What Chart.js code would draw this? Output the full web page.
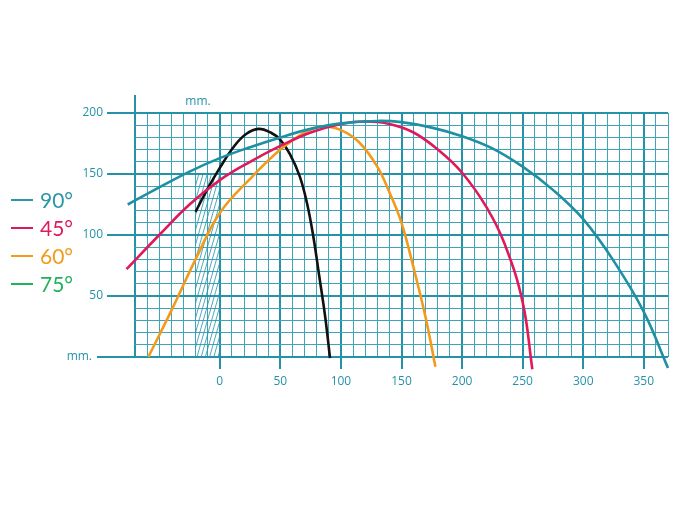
<!DOCTYPE html>
<html>
<head>
<meta charset="utf-8">
<script src="https://cdn.jsdelivr.net/npm/chart.js@4"></script>
<style>
  html, body { margin: 0; padding: 0; background: #fff; }
  #wrap { width: 700px; height: 517px; }
</style>
</head>
<body>
<div id="wrap"><canvas id="trajectoryChart" width="700" height="517"></canvas></div>
<script>
// angles and colours
const labels = ["90°", "45°", "60°", "75°"];
const lineColors = ["#1f8fa3", "#e0195a", "#f29b1b", "#111111"];
const legendColors = ["#2a96a9", "#e0195a", "#f29b1b", "#1fb25a"];

// distance (mm) / height (mm)
const x90 = [-76, -50, -25, 0, 25, 50, 75, 100, 130, 150, 175, 200, 225, 250, 275, 300, 325, 350, 370];
const y90 = [125, 139, 152, 163, 172, 180, 187, 191.5, 193.5, 192.5, 188, 181, 171, 156, 137, 113, 79, 37, -9];

const x45 = [-77, -50, -25, 0, 25, 50, 75, 100, 120, 140, 160, 180, 200, 220, 235, 250, 258];
const y45 = [72, 100, 125, 145, 160, 173, 184, 191, 193, 191, 184, 170, 151, 123, 93, 45, -10];

const x60 = [-59, -40, -20, 0, 25, 50, 70, 85, 100, 115, 130, 140, 150, 160, 170, 178];
const y60 = [0, 38, 80, 118, 146, 170, 184, 189, 186, 176, 156, 135, 110, 73, 32, -8];

const x75 = [-20, -10, 0, 12, 22, 32, 42, 50, 58, 66, 72, 77, 82, 87, 91];
const y75 = [119, 138, 155, 173, 183, 187, 184, 178, 166, 148, 126, 100, 67, 33, -1];

// grid range and hatched zone
const xMin = -70, xMax = 370, yMin = 0, yMax = 200;
const hatchFrom = -20, hatchTo = 0, hatchTop = 150;

const teal = "#2692a8";
const tealLight = "#3fa4b8";

const toPoints = (xs, ys) => xs.map((v, i) => ({ x: v, y: ys[i] }));
const series = [toPoints(x90, y90), toPoints(x45, y45), toPoints(x60, y60), toPoints(x75, y75)];

const isMajorX = (v) => (v >= 0 && v % 50 === 0) || v === xMin;
const isLabelX = (v) => v >= 0 && v % 50 === 0;
const isMajorY = (v) => v % 50 === 0;

const extras = {
  id: "extras",
  beforeDatasetsDraw(chart) {
    const { ctx, scales: { x, y } } = chart;
    ctx.save();

    // hatched zone
    const hx0 = x.getPixelForValue(hatchFrom);
    const hx1 = x.getPixelForValue(hatchTo);
    const hyB = y.getPixelForValue(0);
    const hyT = y.getPixelForValue(hatchTop);
    ctx.beginPath();
    ctx.rect(hx0, hyT, hx1 - hx0, hyB - hyT);
    ctx.clip();
    ctx.strokeStyle = teal;
    ctx.lineWidth = 0.8;
    ctx.beginPath();
    for (let s = hx0 - 70; s < hx1 + 5; s += 4.2) {
      ctx.moveTo(s, hyB);
      ctx.lineTo(s + 60, hyB - 210);
    }
    ctx.stroke();
    ctx.restore();

    ctx.save();
    ctx.strokeStyle = teal;
    ctx.lineWidth = 2;
    // longer tick at 0
    const y0 = Math.round(y.getPixelForValue(0));
    ctx.beginPath();
    ctx.moveTo(97, y0);
    ctx.lineTo(108, y0);
    // left border reaching above the grid
    const xl = Math.round(x.getPixelForValue(xMin));
    ctx.moveTo(xl, y.getPixelForValue(yMax));
    ctx.lineTo(xl, y.getPixelForValue(yMax) - 18);
    ctx.stroke();

    ctx.fillStyle = teal;
    ctx.font = "12px 'Open Sans'";
    ctx.textBaseline = "middle";
    ctx.textAlign = "right";
    ctx.fillText("mm.", 92, y0);
    ctx.textAlign = "center";
    ctx.fillText("mm.", x.getPixelForValue(-18), y.getPixelForValue(yMax) - 11);
    ctx.restore();
  },
  afterDraw(chart) {
    const { ctx } = chart;
    ctx.save();
    ctx.font = "21px Lato";
    ctx.textBaseline = "middle";
    ctx.textAlign = "left";
    labels.forEach((label, i) => {
      const cy = 200 + i * 28;
      ctx.strokeStyle = legendColors[i];
      ctx.lineWidth = 2;
      ctx.beginPath();
      ctx.moveTo(11, cy);
      ctx.lineTo(33, cy);
      ctx.stroke();
      ctx.fillStyle = legendColors[i];
      ctx.fillText(label, 40, cy + 1);
    });
    ctx.restore();
  },
};

const ctx = document.getElementById("trajectoryChart").getContext("2d");
new Chart(ctx, {
  type: "line",
  data: {
    datasets: series.map((pts, i) => ({
      label: labels[i],
      data: pts,
      borderColor: lineColors[i],
      borderWidth: 2.6,
      pointRadius: 0,
      tension: 0.4,
      clip: false,
    })),
  },
  options: {
    responsive: false,
    animation: false,
    layout: { padding: { left: 75, right: 32, top: 113, bottom: 130 } },
    plugins: { legend: { display: false }, tooltip: { enabled: false } },
    scales: {
      x: {
        type: "linear",
        min: xMin,
        max: xMax,
        afterFit: (axis) => { axis.height = 30; },
        border: { display: false },
        grid: {
          color: (c) => (isMajorX(c.tick.value) ? teal : tealLight),
          lineWidth: (c) => (isMajorX(c.tick.value) ? 2 : 1),
          tickColor: (c) => (isLabelX(c.tick.value) ? teal : "transparent"),
          tickLength: 12,
        },
        ticks: {
          stepSize: 10,
          autoSkip: false,
          maxRotation: 0,
          padding: 5,
          color: teal,
          font: { family: "'Open Sans'", size: 12 },
          callback: (v) => (isLabelX(v) ? v : ""),
        },
      },
      y: {
        type: "linear",
        min: yMin,
        max: yMax,
        afterFit: (axis) => { axis.width = 60; },
        border: { display: false },
        grid: {
          color: (c) => (isMajorY(c.tick.value) ? teal : tealLight),
          lineWidth: (c) => (isMajorY(c.tick.value) ? 2 : 1),
          tickColor: (c) => (isMajorY(c.tick.value) ? teal : "transparent"),
          tickLength: 28,
        },
        ticks: {
          stepSize: 10,
          autoSkip: false,
          padding: 4,
          color: teal,
          font: { family: "'Open Sans'", size: 12 },
          callback: (v) => (v > 0 && isMajorY(v) ? v : ""),
        },
      },
    },
  },
  plugins: [extras],
});
</script>
</body>
</html>
